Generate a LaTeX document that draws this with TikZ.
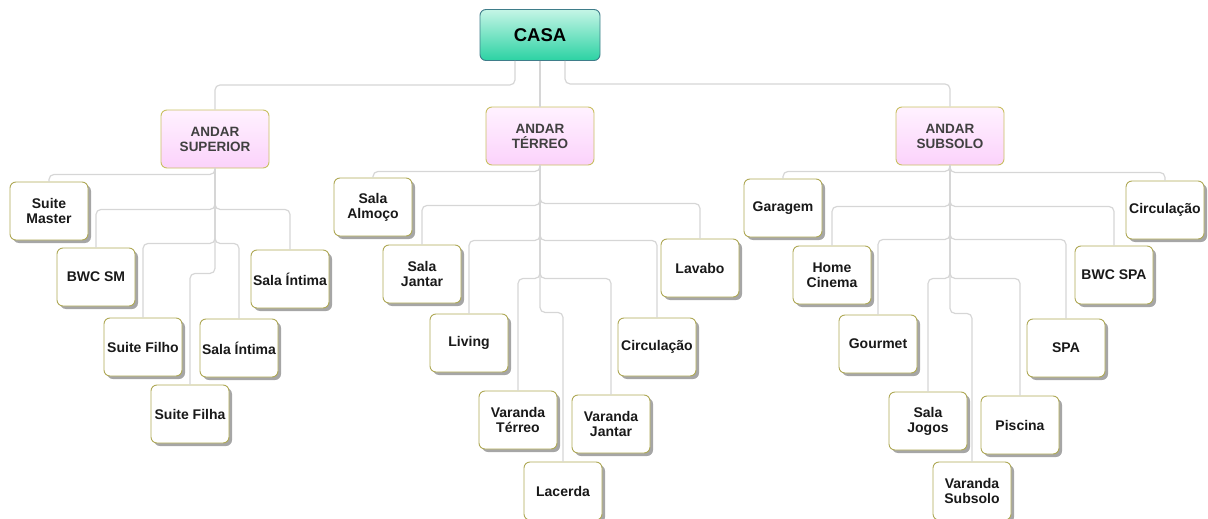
\documentclass[tikz,border=0pt]{standalone}
\usepackage{fontspec}
\setmainfont{Liberation Sans}
\usepackage{xcolor}
\usetikzlibrary{shadows}

\definecolor{roomline}{HTML}{AFA956}
\definecolor{andarline}{HTML}{C9C062}
\definecolor{casaline}{HTML}{3F7D8A}
\definecolor{casatop}{HTML}{C4F5E6}
\definecolor{casabottom}{HTML}{2CD2A3}
\definecolor{andartop}{HTML}{FFF2FF}
\definecolor{andarbottom}{HTML}{FBD2FB}
\definecolor{linkgray}{HTML}{D6D6D6}
\definecolor{andartext}{HTML}{404040}

\begin{document}
\begin{tikzpicture}[x=1pt, y=-1pt,
    room/.style={draw=roomline, line width=0.9pt, fill=white, rounded corners=6pt,
      minimum width=78pt, minimum height=58pt, inner sep=2pt, align=center,
      font=\fontsize{14}{15}\selectfont\bfseries, text=black!90,
      drop shadow={shadow xshift=3pt, shadow yshift=-3pt, fill=black!35, opacity=1}},
    andar/.style={draw=andarline, line width=0.9pt, rounded corners=6pt,
      minimum width=108pt, minimum height=58pt, inner sep=2pt, align=center,
      top color=andartop, bottom color=andarbottom, text=andartext,
      font=\fontsize{13.5}{15}\selectfont\bfseries},
    link/.style={draw=linkgray, line width=1.2pt, rounded corners=5pt}]
    \useasboundingbox (0,0) rectangle (1208,519);

    % root
    \node[draw=casaline, line width=0.9pt, rounded corners=6pt, minimum width=120pt,
      minimum height=51pt, top color=casatop, bottom color=casabottom,
      font=\fontsize{18.5}{20}\selectfont\bfseries] (casa) at (540,35) {CASA};

    % floors
    \node[andar] (sup) at (215,139) {ANDAR\\SUPERIOR};
    \node[andar] (ter) at (540,136) {ANDAR\\TÉRREO};
    \node[andar] (sub) at (950,136) {ANDAR\\SUBSOLO};

    % andar superior
    \node[room] (master) at (49,211) {Suite\\Master};
    \node[room] (bwcsm) at (96,277) {BWC SM};
    \node[room] (filho) at (143,347) {Suite Filho};
    \node[room] (filha) at (190,414) {Suite Filha};
    \node[room] (intimaA) at (290,279) {Sala Íntima};
    \node[room] (intimaB) at (239,348) {Sala Íntima};

    % andar terreo
    \node[room] (almoco) at (373,207) {Sala\\Almoço};
    \node[room] (jantar) at (422,274) {Sala\\Jantar};
    \node[room] (lavabo) at (700,268) {Lavabo};
    \node[room] (living) at (469,343) {Living};
    \node[room] (circT) at (657,347) {Circulação};
    \node[room] (vterreo) at (518,420) {Varanda\\Térreo};
    \node[room] (vjantar) at (611,424) {Varanda\\Jantar};
    \node[room] (lacerda) at (563,491) {Lacerda};

    % andar subsolo
    \node[room] (garagem) at (783,208) {Garagem};
    \node[room] (circS) at (1165,210) {Circulação};
    \node[room] (cinema) at (832,275) {Home\\Cinema};
    \node[room] (bwcspa) at (1114,275) {BWC SPA};
    \node[room] (gourmet) at (878,344) {Gourmet};
    \node[room] (spa) at (1066,348) {SPA};
    \node[room] (jogos) at (928,421) {Sala\\Jogos};
    \node[room] (piscina) at (1020,425) {Piscina};
    \node[room] (vsub) at (972,491) {Varanda\\Subsolo};

    % links from casa
    \draw[link] ([xshift=-25pt]casa.south) -- ++(0,24) -| (sup.north);
    \draw[link] (casa.south) -- (ter.north);
    \draw[link] ([xshift=25pt]casa.south) -- ++(0,23) -| (sub.north);

    % links superior
    \draw[link] (sup.south) -- ++(0,6) -| (master.north);
    \draw[link] (sup.south) -- ++(0,41) -| (bwcsm.north);
    \draw[link] (sup.south) -- ++(0,41) -| (intimaA.north);
    \draw[link] (sup.south) -- ++(0,75) -| (filho.north);
    \draw[link] (sup.south) -- ++(0,75) -| (intimaB.north);
    \draw[link] (sup.south) -- ++(0,105) -| (filha.north);

    % links terreo
    \draw[link] (ter.south) -- ++(0,6) -| (almoco.north);
    \draw[link] (ter.south) -- ++(0,40) -| (jantar.north);
    \draw[link] (ter.south) -- ++(0,38) -| (lavabo.north);
    \draw[link] (ter.south) -- ++(0,75) -| (living.north);
    \draw[link] (ter.south) -- ++(0,75) -| (circT.north);
    \draw[link] (ter.south) -- ++(0,113) -| (vterreo.north);
    \draw[link] (ter.south) -- ++(0,113) -| (vjantar.north);
    \draw[link] (ter.south) -- ++(0,147) -| (lacerda.north);

    % links subsolo
    \draw[link] (sub.south) -- ++(0,6) -| (garagem.north);
    \draw[link] (sub.south) -- ++(0,7) -| (circS.north);
    \draw[link] (sub.south) -- ++(0,41) -| (cinema.north);
    \draw[link] (sub.south) -- ++(0,41) -| (bwcspa.north);
    \draw[link] (sub.south) -- ++(0,74) -| (gourmet.north);
    \draw[link] (sub.south) -- ++(0,74) -| (spa.north);
    \draw[link] (sub.south) -- ++(0,113) -| (jogos.north);
    \draw[link] (sub.south) -- ++(0,113) -| (piscina.north);
    \draw[link] (sub.south) -- ++(0,148) -| (vsub.north);
\end{tikzpicture}
\end{document}
